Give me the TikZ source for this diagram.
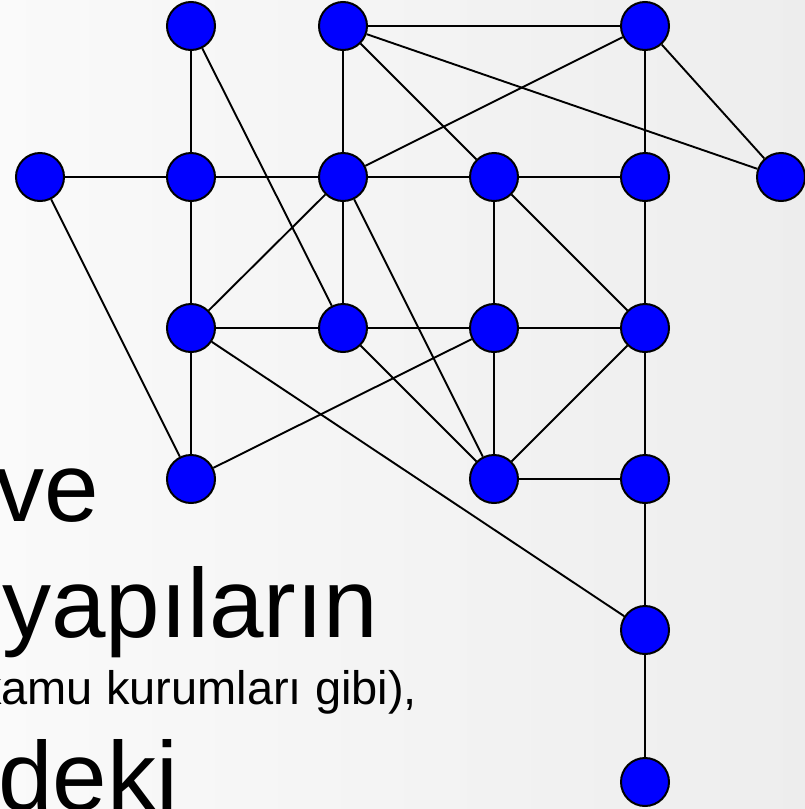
\documentclass[tikz,border=0pt]{standalone}
\usepackage{fontspec}
\setmainfont{Liberation Sans}
\begin{document}
\begin{tikzpicture}[x=1pt,y=-1pt,
  vtx/.style={circle,draw=black,fill=blue,line width=2pt,minimum size=48pt,inner sep=0pt},
  edge/.style={draw=black,line width=1.9pt},
  bigtxt/.style={anchor=base west,inner sep=0pt,font=\fontsize{98}{98}\selectfont},
  smalltxt/.style={anchor=base west,inner sep=0pt,font=\fontsize{47}{47}\selectfont}]
\useasboundingbox (0,0) rectangle (805,809);
\clip (0,0) rectangle (805,809);
\fill[left color=black!2,right color=black!7] (0,0) rectangle (805,809);
% text
\node[bigtxt] (t1) at (-5,521) {ve};
\node[bigtxt] (t2) at (2,637) {yapıların};
\node[smalltxt] (t3) at (-22,704) {kamu kurumları gibi),};
\node[bigtxt] (t4) at (-2,810) {deki};
% vertices
\node[vtx] (a1) at (191,26) {};
\node[vtx] (a2) at (343,26) {};
\node[vtx] (a3) at (645,26) {};
\node[vtx] (b0) at (40,177) {};
\node[vtx] (b1) at (191,177) {};
\node[vtx] (b2) at (343,177) {};
\node[vtx] (b3) at (494,177) {};
\node[vtx] (b4) at (645,177) {};
\node[vtx] (b5) at (781,177) {};
\node[vtx] (c1) at (191,328) {};
\node[vtx] (c2) at (343,328) {};
\node[vtx] (c3) at (494,328) {};
\node[vtx] (c4) at (645,328) {};
\node[vtx] (d1) at (191,479) {};
\node[vtx] (d3) at (494,479) {};
\node[vtx] (d4) at (645,479) {};
\node[vtx] (e4) at (645,630) {};
\node[vtx] (f4) at (645,782) {};
% edges
\foreach \u/\v in {a1/b1,a1/c2,a2/a3,a2/b2,a2/b3,a2/b5,a3/b2,a3/b4,a3/b5,
  b0/b1,b0/d1,b1/b2,b2/b3,b3/b4,b1/c1,b2/c1,b2/c2,b2/d3,b3/c3,b3/c4,b4/c4,
  c1/c2,c2/c3,c3/c4,c1/d1,c1/e4,c2/d3,c3/d1,c3/d3,c4/d3,c4/d4,
  d3/d4,d4/e4,e4/f4}
  \draw[edge] (\u) -- (\v);
\end{tikzpicture}
\end{document}
